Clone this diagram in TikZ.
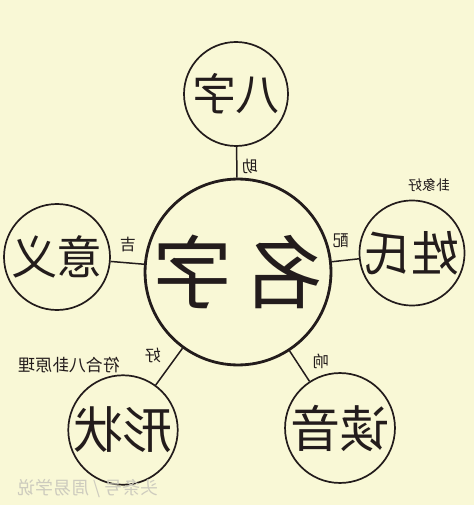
\documentclass[tikz,border=0pt]{standalone}
\usepackage{fontspec}
\newfontfamily\cjk{Noto Sans CJK SC}
\usetikzlibrary{positioning}
\definecolor{paper}{RGB}{249,248,214}
\definecolor{ink}{RGB}{35,28,28}
\definecolor{mark}{RGB}{205,203,190}
\tikzset{%
   mirror/.style={
      xscale=-1
   },
   ring/.style={
      circle,
      draw=ink,
      line width=1.7bp,
      inner sep=0pt,
      minimum size=#1,
      text=ink,
      mirror
   },
   big/.style={
      font=\cjk\fontsize{#1}{#1}\selectfont
   },
   lab/.style={
      inner sep=1pt,
      text=ink,
      font=\cjk\fontsize{16}{16}\selectfont,
      mirror
   },
   note/.style={
      inner sep=1pt,
      text=ink,
      font=\cjk\fontsize{#1}{#1}\selectfont,
      mirror
   },
   link/.style={
      draw=ink,
      line width=1.5bp
   },
}

\begin{document}
\begin{tikzpicture}[x=1bp, y=-1bp]
   \fill[paper] (0,0) rectangle (474,505);
   \useasboundingbox (0,0) rectangle (474,505);
   % circles
   \node[ring=176bp, line width=2.8bp, big=80] (name) at (238,272) {名\hspace{12bp}字};
   \node[ring=104bp, big=44] (bazi) at (236,94) {八字};
   \node[ring=102bp, big=48] (xing) at (412,253) {姓氏};
   \node[ring=106bp, big=46] (yiyi) at (57,257) {意义};
   \node[ring=106bp, big=50] (shape) at (123,430) {形状};
   \node[ring=106bp, big=50] (sound) at (340,428) {读音};
   % connectors
   \path[link] (name) -- (bazi);
   \path[link] (name) -- (xing);
   \path[link] (name) -- (yiyi);
   \path[link] (name) -- (shape);
   \path[link] (name) -- (sound);
   % labels
   \node[lab] (zhu) at (250,166) {助};
   \node[lab] (pei) at (341,241) {配};
   \node[lab] (ji) at (128,245) {吉};
   \node[lab] (hao) at (153,355) {好};
   \node[lab] (xiang) at (321,361) {响};
   \node[note=14] (guaxiang) at (429,185) {卦象好};
   \node[note=17] (bagua) at (69,365) {符合八卦原理};
   \node[note=18, text=mark] (wm) at (88,488) {头条号 / 周易学说};
\end{tikzpicture}
\end{document}
